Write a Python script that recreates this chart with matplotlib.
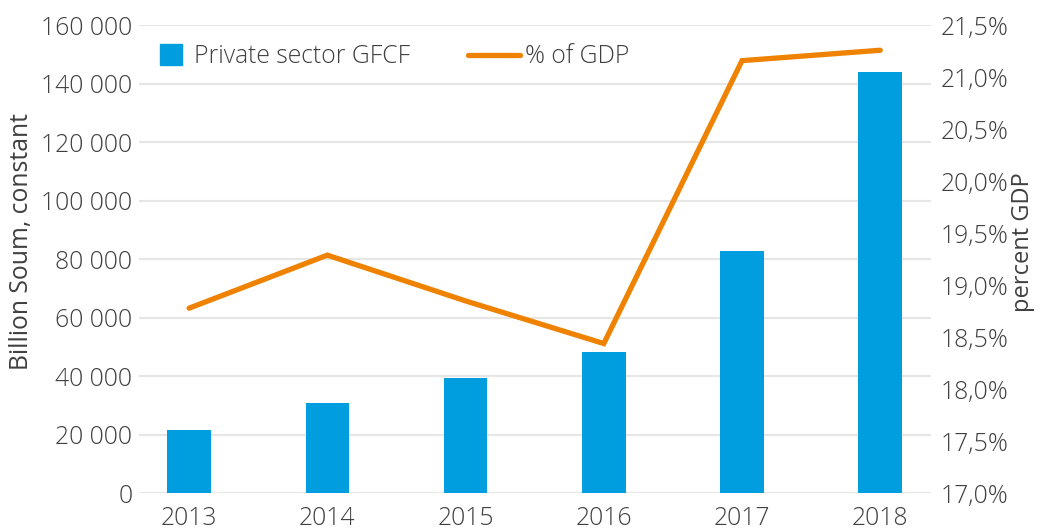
import matplotlib
matplotlib.use('Agg')
from matplotlib import pyplot as plt
from matplotlib import ticker
from matplotlib.patches import Patch
from matplotlib.lines import Line2D

years = ['2013', '2014', '2015', '2016', '2017', '2018']
gfcf = [21500, 31000, 39500, 48300, 83000, 144000]
pct_gdp = [18.78, 19.29, 18.85, 18.44, 21.16, 21.26]

blue = '#009EDF'
orange = '#EF8200'
text_col = '#404040'
fs = 17.8

plt.rcParams['font.family'] = ['Open Sans', 'DejaVu Sans']
plt.rcParams['font.weight'] = 'light'
plt.rcParams['font.size'] = fs

fig = plt.figure(figsize=(10.43, 5.30), dpi=100)
ax = fig.add_axes([0.1336, 0.0692, 0.893 - 0.1336, 0.9523 - 0.0692])
ax2 = ax.twinx()

x = list(range(len(years)))
ax.bar(x, gfcf, width=0.315, color=blue, zorder=2)
ax2.plot(x, pct_gdp, color=orange, linewidth=3.8, solid_capstyle='round',
         solid_joinstyle='miter', zorder=3)

ax.set_xlim(-0.36, 5.37)
ax.set_ylim(0, 160000)
ax.set_yticks(range(0, 160001, 20000))
ax.yaxis.set_major_formatter(ticker.FuncFormatter(lambda v, p: f'{int(v):,}'.replace(',', ' ')))
ax2.set_ylim(17.0, 21.5)
ax2.set_yticks([17.0 + 0.5 * i for i in range(10)])
ax2.yaxis.set_major_formatter(ticker.FuncFormatter(lambda v, p: f'{v:.1f}%'.replace('.', ',')))

ax.set_xticks(x)
ax.set_xticklabels(years)
ax.grid(axis='y', color='#E6E6E6', linewidth=1.5, zorder=0)
ax.set_axisbelow(True)

for a in (ax, ax2):
    for s in a.spines.values():
        s.set_visible(False)
    a.tick_params(length=0, colors=text_col, labelsize=fs)
ax.tick_params(axis='y', pad=5)
ax.tick_params(axis='x', pad=9)
ax2.tick_params(axis='y', pad=7)

ax.set_ylabel('Billion Soum, constant', color=text_col, fontsize=fs)
ax.yaxis.set_label_coords(-0.133, 0.537)
ax2.set_ylabel('percent GDP', color=text_col, fontsize=17)
ax2.yaxis.set_label_coords(1.1, 0.537)

leg1 = ax2.legend(handles=[Patch(color=blue, label='Private sector GFCF')],
                  loc='center left', bbox_to_anchor=(0.153, 0.893),
                  bbox_transform=fig.transFigure, frameon=False,
                  handlelength=0.9, handleheight=0.9, handletextpad=0.5,
                  labelcolor=text_col, fontsize=fs, borderpad=0, borderaxespad=0)
ax2.add_artist(leg1)
ax2.legend(handles=[Line2D([], [], color=orange, linewidth=3.8,
                           solid_capstyle='round', label='% of GDP')],
           loc='center left', bbox_to_anchor=(0.449, 0.893),
           bbox_transform=fig.transFigure, frameon=False,
           handlelength=2.1, handletextpad=0.2,
           labelcolor=text_col, fontsize=fs, borderpad=0, borderaxespad=0)

plt.savefig('out.png', dpi=100)
plt.close()
